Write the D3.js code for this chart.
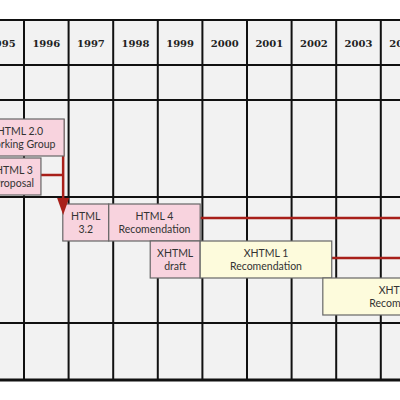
<!DOCTYPE html>
<html><head><meta charset="utf-8">
<script src="https://cdn.jsdelivr.net/npm/d3@7"></script>
<style>body{margin:0;background:#fff}</style></head>
<body><div id="chart"></div>
<script>
const years = [1995, 1996, 1997, 1998, 1999, 2000, 2001, 2002, 2003, 2004];
const boxLabels = [["HTML 2.0", "Working Group"], ["HTML 3", "Proposal"], ["HTML", "3.2"], ["HTML 4", "Recomendation"], ["XHTML", "draft"], ["XHTML 1", "Recomendation"], ["XHTML 1.1", "Recomendation"]];
const boxStart = [1994.92, 1995.17, 1996.87, 1997.9, 1998.83, 1999.95, 2002.7];
const boxEnd = [1996.9, 1996.38, 1997.9, 1999.95, 1999.95, 2002.9, 2006.4];
const boxRow = [0, 1, 2, 2, 3, 3, 4];
const rowTop = [119, 158, 204, 241, 278];
const boxColor = ["#f8d3de", "#f8d3de", "#f8d3de", "#f8d3de", "#f8d3de", "#fdfbdc", "#fdfbdc"];

const W = 400, H = 400, boxH = 37;
const x = d3.scaleLinear().domain([1996, 1997]).range([24, 68.6]);

const svg = d3.select("#chart").append("svg").attr("width", W).attr("height", H);
svg.append("rect").attr("width", W).attr("height", H).attr("fill", "#fff");
svg.append("rect").attr("x", 0).attr("y", 20).attr("width", W).attr("height", 360).attr("fill", "#f2f2f2");

// grid
const gridY = [20, 65, 100, 197, 323, 380];
svg.selectAll(".hl").data(gridY).enter().append("line")
  .attr("x1", 0).attr("x2", W).attr("y1", d => d).attr("y2", d => d)
  .attr("stroke", "#111").attr("stroke-width", (d, i) => i === gridY.length - 1 ? 3 : 2);
svg.selectAll(".vl").data(years.slice(1)).enter().append("line")
  .attr("x1", d => x(d)).attr("x2", d => x(d)).attr("y1", 20).attr("y2", 380)
  .attr("stroke", "#111").attr("stroke-width", 2);
svg.selectAll(".yr").data(years).enter().append("text")
  .attr("x", d => x(d + 0.5)).attr("y", 47).attr("text-anchor", "middle")
  .attr("font-family", "DejaVu Serif").attr("font-weight", "bold").attr("font-size", 10)
  .attr("fill", "#222").text(d => d);

// red connectors
const red = "#a8201a";
const ax = x(boxEnd[0]) - 1;
const conn = svg.append("g").attr("stroke", red).attr("stroke-width", 2.5).attr("fill", "none");
conn.append("path").attr("d", `M${ax},${rowTop[0]} V${rowTop[2] - 2}`);
conn.append("path").attr("d", `M${x(boxEnd[1])},${rowTop[1] + 17} H${ax}`);
conn.append("path").attr("d", `M${x(boxEnd[3])},${rowTop[2] + 14} H${W}`);
conn.append("path").attr("d", `M${x(boxEnd[5])},${rowTop[3] + 17} H${W}`);

// boxes
const bg = svg.selectAll(".box").data(boxLabels).enter().append("g");
bg.append("rect")
  .attr("x", (d, i) => x(boxStart[i])).attr("y", (d, i) => rowTop[boxRow[i]])
  .attr("width", (d, i) => x(boxEnd[i]) - x(boxStart[i])).attr("height", boxH)
  .attr("fill", (d, i) => boxColor[i]).attr("stroke", "#666").attr("stroke-width", 1.2);
bg.each(function (d, i) {
  const g = d3.select(this);
  d.forEach((t, j) => g.append("text")
    .attr("x", x((boxStart[i] + boxEnd[i]) / 2)).attr("y", rowTop[boxRow[i]] + 16 + j * 13)
    .attr("text-anchor", "middle").attr("font-family", "Lato").attr("font-size", 10.5)
    .attr("fill", "#333").text(t));
});

// arrow head
svg.append("path").attr("fill", red)
  .attr("d", `M${ax - 6},${rowTop[2] - 6} L${ax + 6},${rowTop[2] - 6} L${ax},${rowTop[2] + 11} Z`);
</script></body></html>
